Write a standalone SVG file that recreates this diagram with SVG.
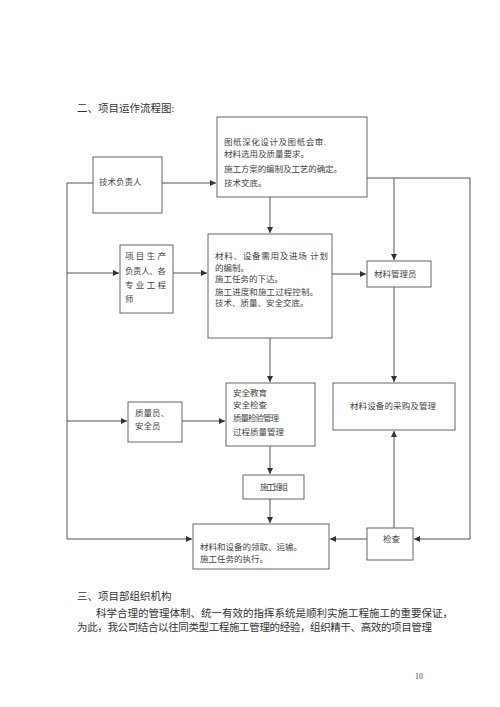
<svg xmlns="http://www.w3.org/2000/svg" width="500" height="707" viewBox="0 0 500 707">
<defs>
<marker id="ah" markerUnits="userSpaceOnUse" markerWidth="6" markerHeight="6" refX="6" refY="3" orient="auto">
<path d="M0,0 L6,3 L0,6 z" fill="#333"/>
</marker>
</defs>
<style>
.box{fill:#fff;stroke:#666;stroke-width:1}
.t{font-family:"Liberation Serif","Noto Sans CJK SC",serif;font-size:8.5px;fill:#444}
.h{font-family:"Liberation Serif","Noto Sans CJK SC",serif;font-size:10.5px;fill:#333}
.c{fill:none;stroke:#555;stroke-width:1}
.a{marker-end:url(#ah)}
</style>
<rect width="500" height="707" fill="#fff"/>
<text class="h" x="77" y="112">二、项目运作流程图:</text>

<g id="connectors">
<path class="c a" d="M162,183 H216"/>
<path class="c a" d="M93,183 H67 V539 H192"/>
<path class="c a" d="M67,273 H119"/>
<path class="c a" d="M67,421 H127"/>
<path class="c a" d="M173,273 H207"/>
<path class="c a" d="M270,197 V233"/>
<path class="c a" d="M332,274 H366"/>
<path class="c a" d="M367,178 H470 V539 H414"/>
<path class="c a" d="M394,178 V260"/>
<path class="c a" d="M394,287 V382"/>
<path class="c a" d="M270,338 V382"/>
<path class="c a" d="M182,421 H225"/>
<path class="c a" d="M270,446 V474"/>
<path class="c a" d="M270,499 V523"/>
<path class="c a" d="M394,528 V431"/>
<path class="c a" d="M367,539 H330"/>
</g>

<g id="n1">
<rect class="box" x="217" y="117" width="150" height="80"/>
<text class="t" x="224" y="145" textLength="102">图纸深化设计及图纸会审.</text>
<text class="t" x="224" y="157">材料选用及质量要求。</text>
<text class="t" x="224" y="172" textLength="118">施工方案的编制及工艺的确定。</text>
<text class="t" x="224" y="186">技术交底。</text>
</g>

<g id="n2">
<rect class="box" x="93" y="157" width="69" height="56"/>
<text class="t" x="99" y="185">技术负责人</text>
</g>

<g id="n3">
<rect class="box" x="120" y="245" width="53" height="68"/>
<text class="t" x="125" y="259" textLength="41">项目生产</text>
<text class="t" x="125" y="274" textLength="41">负责人、各</text>
<text class="t" x="125" y="288" textLength="41">专业工程</text>
<text class="t" x="125" y="302">师</text>
</g>

<g id="n4">
<rect class="box" x="208" y="234" width="124" height="104"/>
<text class="t" x="215" y="259" textLength="113">材料、设备需用及进场 计划</text>
<text class="t" x="215" y="271">的编制。</text>
<text class="t" x="215" y="282">施工任务的下达。</text>
<text class="t" x="215" y="295" textLength="103">施工进度和施工过程控制。</text>
<text class="t" x="215" y="306">技术、质量、安全交底。</text>
</g>

<g id="n5">
<rect class="box" x="367" y="261" width="64" height="26"/>
<text class="t" x="374" y="277">材料管理员</text>
</g>

<g id="n6">
<rect class="box" x="128" y="402" width="54" height="40"/>
<text class="t" x="135" y="416">质量员、</text>
<text class="t" x="135" y="429">安全员</text>
</g>

<g id="n7">
<rect class="box" x="226" y="383" width="89" height="63"/>
<text class="t" x="233" y="396">安全教育</text>
<text class="t" x="233" y="408">安全检查</text>
<text class="t" x="233" y="421" textLength="46">质量检验管理</text>
<text class="t" x="233" y="435">过程质量管理</text>
</g>

<g id="n8">
<rect class="box" x="333" y="383" width="122" height="47"/>
<text class="t" x="350" y="409" textLength="86">材料设备的采购及管理</text>
</g>

<g id="n9">
<rect class="box" x="243" y="475" width="61" height="24"/>
<text class="t" x="260" y="490" textLength="28">施工班组</text>
</g>

<g id="n10">
<rect class="box" x="193" y="524" width="136" height="45"/>
<text class="t" x="200" y="550">材料和设备的领取、运输。</text>
<text class="t" x="200" y="562">施工任务的执行。</text>
</g>

<g id="n11">
<rect class="box" x="367" y="528" width="46" height="32"/>
<text class="t" x="383" y="542">检查</text>
</g>

<text class="h" x="77" y="600">三、项目部组织机构</text>
<text class="h" x="96" y="617" textLength="357">科学合理的管理体制、统一有效的指挥系统是顺利实施工程施工的重要保证，</text>
<text class="h" x="77" y="631" textLength="355">为此，我公司结合以往同类型工程施工管理的经验，组织精干、高效的项目管理</text>
<text class="t" x="415" y="679" style="font-size:8px">10</text>
</svg>
